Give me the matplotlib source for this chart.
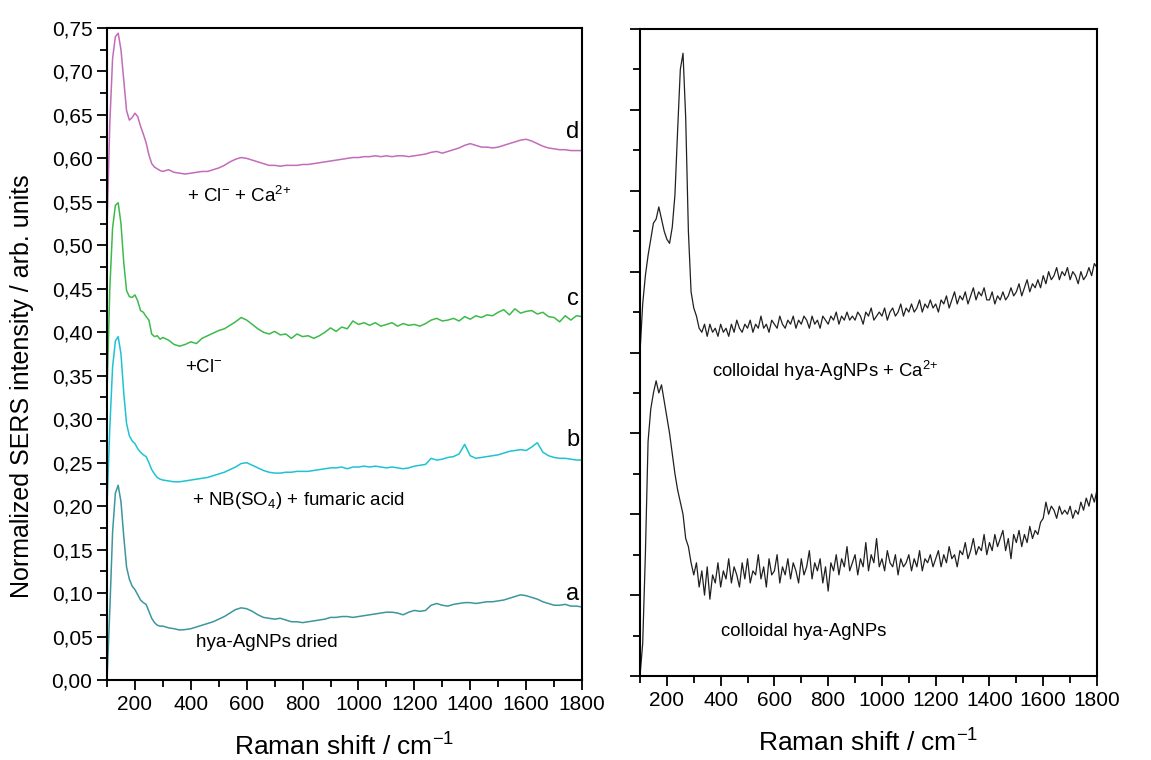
import matplotlib
matplotlib.use("Agg")
import matplotlib.pyplot as plt
import numpy as np
from matplotlib.ticker import MultipleLocator, FuncFormatter

plt.rcParams['font.family'] = ['Liberation Sans', 'DejaVu Sans']
plt.rcParams['mathtext.default'] = 'regular'

# Raman shift grid (cm-1) for the left panel
shift_left = np.concatenate([np.arange(100, 300, 10), np.arange(300, 1801, 20)])

# a: hya-AgNPs dried
spec_a = [0.000, 0.080, 0.170, 0.215, 0.224, 0.205, 0.165, 0.130, 0.116, 0.108,
          0.104, 0.098, 0.092, 0.089, 0.087, 0.079, 0.071, 0.066, 0.063, 0.062,
          0.062, 0.060, 0.059, 0.0575, 0.058, 0.059, 0.061, 0.063, 0.065, 0.067,
          0.070, 0.073, 0.077, 0.081, 0.083, 0.082, 0.079, 0.075, 0.072, 0.071,
          0.070, 0.071, 0.069, 0.067, 0.067, 0.066, 0.067, 0.068, 0.069, 0.070,
          0.072, 0.072, 0.073, 0.073, 0.072, 0.073, 0.074, 0.075, 0.076, 0.077,
          0.078, 0.078, 0.077, 0.075, 0.078, 0.080, 0.079, 0.080, 0.086, 0.088,
          0.086, 0.085, 0.087, 0.088, 0.089, 0.089, 0.088, 0.089, 0.090, 0.090,
          0.091, 0.092, 0.094, 0.096, 0.098, 0.097, 0.095, 0.093, 0.090, 0.088,
          0.086, 0.086, 0.087, 0.085, 0.085, 0.084]

# b: + NB(SO4) + fumaric acid
spec_b = [0.200, 0.290, 0.360, 0.390, 0.395, 0.375, 0.330, 0.295, 0.281, 0.275,
          0.272, 0.266, 0.262, 0.259, 0.257, 0.250, 0.242, 0.237, 0.233, 0.231,
          0.230, 0.229, 0.228, 0.228, 0.229, 0.230, 0.231, 0.232, 0.233, 0.235,
          0.237, 0.239, 0.242, 0.245, 0.249, 0.250, 0.247, 0.244, 0.241, 0.239,
          0.238, 0.238, 0.239, 0.239, 0.240, 0.240, 0.240, 0.241, 0.242, 0.243,
          0.244, 0.244, 0.245, 0.243, 0.245, 0.245, 0.246, 0.245, 0.246, 0.245,
          0.244, 0.245, 0.244, 0.243, 0.244, 0.246, 0.247, 0.248, 0.255, 0.253,
          0.254, 0.256, 0.257, 0.260, 0.271, 0.258, 0.255, 0.256, 0.257, 0.258,
          0.259, 0.261, 0.263, 0.264, 0.265, 0.264, 0.268, 0.273, 0.262, 0.258,
          0.256, 0.255, 0.255, 0.254, 0.253, 0.253]

# c: + Cl-
spec_c = [0.330, 0.450, 0.520, 0.546, 0.549, 0.525, 0.480, 0.448, 0.441, 0.440,
          0.443, 0.436, 0.425, 0.423, 0.418, 0.414, 0.398, 0.395, 0.396, 0.392,
          0.394, 0.391, 0.386, 0.384, 0.386, 0.389, 0.387, 0.393, 0.396, 0.399,
          0.402, 0.404, 0.408, 0.412, 0.417, 0.414, 0.409, 0.404, 0.400, 0.398,
          0.401, 0.397, 0.398, 0.393, 0.398, 0.395, 0.396, 0.393, 0.396, 0.400,
          0.405, 0.401, 0.406, 0.404, 0.413, 0.409, 0.411, 0.408, 0.411, 0.407,
          0.409, 0.411, 0.407, 0.410, 0.408, 0.409, 0.407, 0.410, 0.414, 0.416,
          0.413, 0.414, 0.416, 0.413, 0.418, 0.415, 0.419, 0.417, 0.420, 0.419,
          0.423, 0.426, 0.420, 0.427, 0.422, 0.424, 0.425, 0.421, 0.423, 0.418,
          0.417, 0.412, 0.419, 0.414, 0.419, 0.418]

# d: + Cl- + Ca2+
spec_d = [0.520, 0.640, 0.715, 0.740, 0.744, 0.725, 0.690, 0.655, 0.644, 0.647,
          0.652, 0.648, 0.637, 0.628, 0.618, 0.604, 0.594, 0.590, 0.588, 0.586,
          0.585, 0.587, 0.584, 0.583, 0.582, 0.583, 0.584, 0.585, 0.585, 0.587,
          0.589, 0.592, 0.596, 0.599, 0.601, 0.600, 0.598, 0.596, 0.594, 0.592,
          0.592, 0.591, 0.592, 0.592, 0.592, 0.593, 0.593, 0.594, 0.595, 0.596,
          0.597, 0.598, 0.599, 0.600, 0.601, 0.601, 0.602, 0.602, 0.603, 0.602,
          0.603, 0.602, 0.603, 0.603, 0.602, 0.603, 0.604, 0.605, 0.607, 0.608,
          0.606, 0.608, 0.610, 0.612, 0.615, 0.617, 0.615, 0.613, 0.613, 0.612,
          0.613, 0.615, 0.617, 0.619, 0.621, 0.622, 0.620, 0.617, 0.614, 0.612,
          0.611, 0.610, 0.610, 0.609, 0.609, 0.609]

# right panel grid, 10 cm-1 steps
shift_right = np.arange(100, 1801, 10)

colloid_ca = [8.0, 9.2, 9.9, 10.4, 10.8, 11.2, 11.3, 11.6, 11.3, 11.0,
              10.8, 10.7, 11.1, 11.9, 13.5, 15.0, 15.4, 13.8, 11.0, 9.5,
              9.1, 8.9, 8.6, 8.5, 8.7, 8.4, 8.7, 8.5, 8.6, 8.4,
              8.7, 8.5, 8.6, 8.4, 8.7, 8.5, 8.8, 8.6, 8.5, 8.7,
              8.6, 8.8, 8.5, 8.7, 8.6, 8.9, 8.6, 8.7, 8.5, 8.8,
              8.7, 8.6, 8.9, 8.7, 8.6, 8.8, 8.7, 8.9, 8.6, 8.8,
              8.7, 8.9, 8.8, 8.6, 8.9, 8.7, 8.8, 8.6, 8.9, 8.8,
              8.7, 8.9, 8.8, 9.0, 8.7, 8.9, 8.8, 9.0, 8.8, 8.9,
              8.8, 9.0, 8.9, 8.7, 9.0, 8.9, 9.1, 8.8, 8.9, 9.0,
              8.9, 9.1, 8.8, 9.0, 9.1, 8.9, 9.0, 9.2, 8.9, 9.1,
              9.0, 9.2, 9.0, 9.1, 9.3, 9.0, 9.2, 9.1, 9.3, 9.1,
              9.2, 9.0, 9.3, 9.2, 9.4, 9.1, 9.3, 9.5, 9.2, 9.4,
              9.3, 9.5, 9.2, 9.4, 9.6, 9.3, 9.5, 9.4, 9.6, 9.3,
              9.3, 9.5, 9.2, 9.4, 9.3, 9.5, 9.3, 9.4, 9.6, 9.4,
              9.5, 9.7, 9.4, 9.6, 9.8, 9.5, 9.7, 9.6, 9.8, 9.6,
              9.9, 9.7, 10.0, 9.8, 9.9, 10.1, 9.8, 10.0, 9.9, 10.1,
              9.8, 10.0, 9.9, 9.7, 10.0, 9.8, 9.9, 10.1, 9.9, 10.2,
              10.1]

colloid = [0.0, 0.8, 3.0, 5.8, 6.6, 7.0, 7.3, 7.0, 7.2, 6.8,
           6.4, 6.0, 5.5, 5.0, 4.6, 4.3, 4.0, 3.4, 3.2, 2.8,
           2.5, 2.8, 2.2, 2.6, 2.0, 2.7, 1.9, 2.5, 2.3, 2.8,
           2.2, 2.6, 2.4, 2.9, 2.3, 2.7, 2.5, 2.2, 2.8, 2.4,
           2.9, 2.3, 2.6, 2.5, 3.0, 2.4, 2.7, 2.2, 2.9, 2.5,
           2.6, 3.0, 2.3, 2.7, 2.5, 2.9, 2.4, 2.8, 2.6, 2.3,
           2.9, 2.5, 2.7, 3.1, 2.4, 2.8, 2.6, 2.9, 2.3, 2.7,
           2.1, 2.8, 2.6, 3.0, 2.5, 2.9, 2.7, 3.2, 2.6, 2.8,
           3.0, 2.5, 2.9, 2.7, 3.3, 2.6, 3.0, 2.8, 3.4, 2.7,
           2.9, 2.6, 3.1, 2.8, 2.7, 3.0, 2.5, 2.9, 2.7, 2.8,
           3.0, 2.6, 2.9, 2.7, 3.1, 2.6, 2.9, 2.8, 3.0, 2.7,
           2.9, 3.1, 2.7, 3.0, 2.8, 3.2, 2.9, 3.0, 2.7, 3.1,
           3.0, 3.3, 2.9, 3.1, 3.4, 3.0, 3.2, 3.1, 3.5, 3.0,
           3.3, 3.1, 3.5, 3.2, 3.4, 3.6, 3.1, 3.4, 2.9, 3.5,
           3.3, 3.6, 3.2, 3.5, 3.3, 3.7, 3.4, 3.6, 3.5, 3.8,
           3.9, 4.3, 4.0, 4.2, 4.1, 3.9, 4.2, 4.0, 4.1, 4.0,
           4.2, 3.9, 4.1, 4.0, 4.3, 4.1, 4.4, 4.2, 4.5, 4.3,
           4.6]

W, H = 1151, 760
fig = plt.figure(figsize=(W / 100, H / 100), dpi=100)
ax1 = fig.add_axes([107 / W, 1 - 680 / H, 475 / W, 652 / H])
ax2 = fig.add_axes([640 / W, 1 - 676 / H, 457 / W, 647 / H])

ax1.plot(shift_left, spec_a, color='#3b979d', lw=1.1)
ax1.plot(shift_left, spec_b, color='#1ec3d3', lw=1.1)
ax1.plot(shift_left, spec_c, color='#3dba4a', lw=1.1)
ax1.plot(shift_left, spec_d, color='#c26cba', lw=1.1)

ax2.plot(shift_right, colloid_ca, color='#202020', lw=0.9)
ax2.plot(shift_right, colloid, color='#202020', lw=0.9)

for ax in (ax1, ax2):
    ax.set_xlim(100, 1800)
    ax.xaxis.set_major_locator(MultipleLocator(200))
    ax.xaxis.set_minor_locator(MultipleLocator(100))
    ax.tick_params(which='both', direction='out', top=False, right=False,
                   width=1.3, labelsize=15)
    ax.tick_params(which='major', length=7)
    ax.tick_params(which='minor', length=5)
    for s in ax.spines.values():
        s.set_linewidth(1.5)
    ax.set_xlabel('Raman shift / cm$^{-1}$', fontsize=19, labelpad=14)
    ax.set_xticks([200, 400, 600, 800, 1000, 1200, 1400, 1600, 1800])

ax1.set_ylim(0, 0.75)
ax1.yaxis.set_major_locator(MultipleLocator(0.05))
ax1.yaxis.set_minor_locator(MultipleLocator(0.025))
ax1.yaxis.set_major_formatter(FuncFormatter(lambda v, p: f'{v:.2f}'.replace('.', ',')))

ax2.set_ylim(0, 16)
ax2.yaxis.set_major_locator(MultipleLocator(2))
ax2.yaxis.set_minor_locator(MultipleLocator(1))
ax2.set_yticklabels([])

fig.text(22 / W, 1 - 386 / H, 'Normalized SERS intensity / arb. units',
         rotation=90, fontsize=18, ha='center', va='center')

# curve labels
for lab, yv in [('a', 0.099), ('b', 0.276), ('c', 0.438), ('d', 0.630)]:
    ax1.text(1790, yv, lab, fontsize=17, ha='right', va='center')

ax1.text(386, 0.557, '+ Cl$^{-}$ + Ca$^{2{+}}$', fontsize=13.5, va='center')
ax1.text(379, 0.360, '+Cl$^{-}$', fontsize=13.5, va='center')
ax1.text(404, 0.207, '+ NB(SO$_4$) + fumaric acid', fontsize=13.5, va='center')
ax1.text(419, 0.043, 'hya-AgNPs dried', fontsize=13.5, va='center')

ax2.text(368, 7.55, 'colloidal hya-AgNPs + Ca$^{2{+}}$', fontsize=13.3, va='center')
ax2.text(401, 1.11, 'colloidal hya-AgNPs', fontsize=13.3, va='center')

fig.savefig('out.png', dpi=100)
